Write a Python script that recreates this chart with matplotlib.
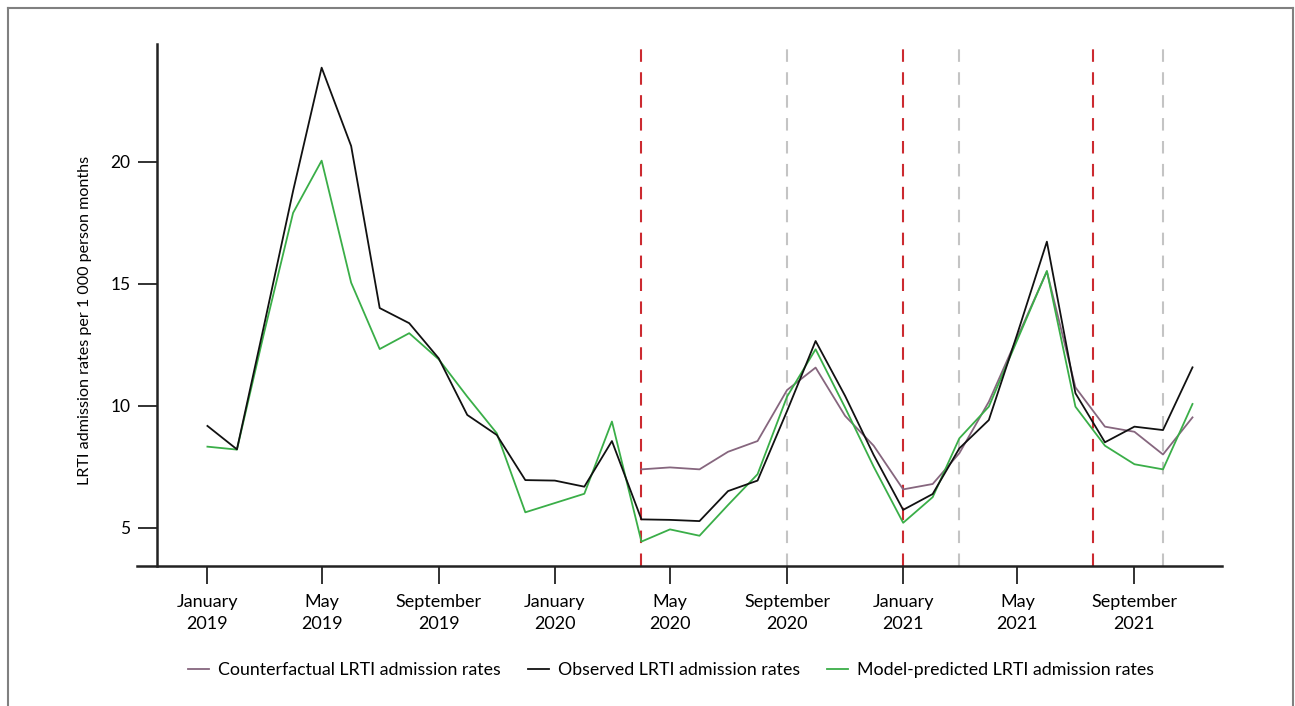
import matplotlib
matplotlib.use("Agg")
import matplotlib.pyplot as plt
import matplotlib.dates as mdates
from matplotlib.lines import Line2D
import pandas as pd

plt.rcParams['font.family'] = ['Lato', 'DejaVu Sans']

months = pd.date_range('2019-01-01', '2021-11-01', freq='MS')

observed = [9.17, 8.21, 13.2, 18.8, 23.85, 20.64, 14.0, 13.38, 11.94, 9.62, 8.8, 6.95,
            6.93, 6.68, 8.55, 5.34, 5.32, 5.27, 6.5, 6.93, 9.78, 12.65, 10.4, 7.98,
            5.73, 6.38, 8.25, 9.41, 12.95, 16.72, 10.51, 8.5, 9.14, 9.0, 11.57]

predicted = [8.32, 8.2, 12.9, 17.9, 20.04, 15.04, 12.32, 12.97, 11.9, 10.37, 8.87, 5.63,
             6.01, 6.39, 9.35, 4.43, 4.93, 4.67, 5.93, 7.19, 10.37, 12.31, 9.92, 7.5,
             5.2, 6.25, 8.66, 9.96, 12.7, 15.52, 9.96, 8.36, 7.6, 7.39, 10.07]

cf_months = pd.date_range('2020-04-01', '2021-11-01', freq='MS')
counterfactual = [7.39, 7.47, 7.39, 8.11, 8.55, 10.64, 11.56, 9.58, 8.36,
                  6.57, 6.79, 8.05, 10.16, 12.8, 15.5, 10.75, 9.14, 8.93, 8.0, 9.52]

red_lines = ['2020-04-01', '2021-01-01', '2021-07-19']
gray_lines = ['2020-09-01', '2021-03-01', '2021-10-01']

tick_dates = pd.date_range('2019-01-01', '2021-09-01', freq='4MS')
tick_labels = [f"{d.strftime('%B')}\n{d.year}" for d in tick_dates]
y_ticks = [5, 10, 15, 20]

W, H = 1295, 706
fig = plt.figure(figsize=(W / 100, H / 100), dpi=100)
ax = fig.add_axes([137 / W, 1 - 566 / H, (1222 - 137) / W, (566 - 44) / H])

c_cf = '#86667e'
c_obs = '#111111'
c_pred = '#3aae48'

for d in red_lines:
    ax.axvline(pd.Timestamp(d), color='#cc2a30', lw=1.5, dashes=(6, 5), zorder=1)
for d in gray_lines:
    ax.axvline(pd.Timestamp(d), color='#c4c4c4', lw=1.5, dashes=(6, 5), zorder=1)

ax.plot(cf_months, counterfactual, color=c_cf, lw=1.3, label='Counterfactual LRTI admission rates', zorder=3)
ax.plot(months, observed, color=c_obs, lw=1.3, label='Observed LRTI admission rates', zorder=4)
ax.plot(months, predicted, color=c_pred, lw=1.3, label='Model-predicted LRTI admission rates', zorder=3)

ax.set_xlim(pd.Timestamp('2018-10-19'), pd.Timestamp('2021-12-02'))
ax.set_ylim(3.43, 24.82)

for s in ['top', 'right']:
    ax.spines[s].set_visible(False)
ax.spines['left'].set_position(('data', mdates.date2num(pd.Timestamp('2018-11-09'))))
for s in ['left', 'bottom']:
    ax.spines[s].set_linewidth(1.8)
    ax.spines[s].set_color('#222222')

ax.set_xticks(tick_dates)
ax.set_xticklabels(tick_labels, fontsize=13, linespacing=1.45)
ax.set_yticks(y_ticks)
ax.set_yticklabels([str(v) for v in y_ticks], fontsize=12.5)
ax.tick_params(axis='x', direction='out', length=13, width=1.3, color='#222222', pad=7)
ax.tick_params(axis='y', direction='out', length=14, width=1.3, color='#222222', pad=5)

fig.text(85 / W, 1 - 320 / H, 'LRTI admission rates per 1 000 person months',
         rotation=90, ha='center', va='center', fontsize=11.6)

handles, labels = ax.get_legend_handles_labels()
fig.legend(handles, labels, loc='center', bbox_to_anchor=(671 / W, 1 - 670 / H), ncol=3,
           frameon=False, fontsize=12.8, handlelength=1.2, handletextpad=0.5, columnspacing=1.5)

# outer frame (left, top, right)
fc = '#808080'
fig.add_artist(Line2D([8 / W, 8 / W], [0, 1 - 8 / H], color=fc, lw=1.5, transform=fig.transFigure))
fig.add_artist(Line2D([8 / W, 1292.5 / W], [1 - 8 / H, 1 - 8 / H], color=fc, lw=1.5, transform=fig.transFigure))
fig.add_artist(Line2D([1292.5 / W, 1292.5 / W], [0, 1 - 8 / H], color=fc, lw=1.5, transform=fig.transFigure))

fig.savefig('out.png', dpi=100)
